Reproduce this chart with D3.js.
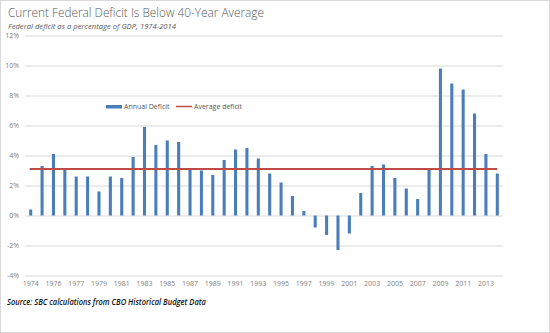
<!DOCTYPE html>
<html>
<head>
<meta charset="utf-8">
<script src="https://cdn.jsdelivr.net/npm/d3@7/dist/d3.min.js"></script>
<style>
  html, body { margin: 0; padding: 0; background: #fff; }
  svg { display: block; }
  text { font-family: "Open Sans", "Liberation Sans", sans-serif; }
</style>
</head>
<body>
<svg id="chart" width="550" height="333"></svg>
<script>
const categories = ["1974","1975","1976","1976 TQ","1977","1978","1979","1980","1981","1982","1983","1984","1985","1986","1987","1988","1989","1990","1991","1992","1993","1994","1995","1996","1997","1998","1999","2000","2001","2002","2003","2004","2005","2006","2007","2008","2009","2010","2011","2012","2013","2014"];
const annualDeficit = [0.4,3.3,4.1,3.1,2.6,2.6,1.6,2.6,2.5,3.9,5.9,4.7,5.0,4.9,3.1,3.0,2.7,3.7,4.4,4.5,3.8,2.8,2.2,1.3,0.3,-0.8,-1.3,-2.3,-1.2,1.5,3.3,3.4,2.5,1.8,1.1,3.1,9.8,8.8,8.4,6.8,4.1,2.8];
const averageDeficit = 3.1;
const xTickLabels = ["1974","1976","1977","1979","1981","1983","1985","1987","1989","1991","1993","1995","1997","1999","2001","2003","2005","2007","2009","2011","2013"];
const yTicks = [-4,-2,0,2,4,6,8,10,12];

const svg = d3.select("#chart");

// chart border
svg.append("rect").attr("x",0.5).attr("y",0.5).attr("width",549).attr("height",332)
  .attr("fill","#fff").attr("stroke","#d9d9d9");

const x = d3.scaleBand().domain(categories).range([25, 503]).paddingInner(0.73).paddingOuter(0.365);
const y = d3.scaleLinear().domain([-4, 12]).range([275.5, 35.5]);

// gridlines + y labels
const yAxis = d3.axisLeft(y).tickValues(yTicks).tickFormat(d => d + "%").tickSize(-(503-25)).tickPadding(5);
const gy = svg.append("g").attr("transform","translate(25,0)").call(yAxis);
gy.select(".domain").remove();
gy.selectAll(".tick line").attr("stroke","#d9d9d9").attr("stroke-width",1);
gy.selectAll(".tick text").attr("fill","#7f7f7f").attr("font-size","7px").attr("x",-6);

// bars
svg.append("g").selectAll("rect").data(annualDeficit).join("rect")
  .attr("x",(d,i)=>x(categories[i]))
  .attr("width",x.bandwidth())
  .attr("y",d=>y(Math.max(0,d)))
  .attr("height",d=>Math.abs(y(d)-y(0)))
  .attr("fill","#4a7ebb");

// average line
const c0 = x(categories[0]) + x.bandwidth()/2;
const c1 = x(categories[categories.length-1]) + x.bandwidth()/2;
svg.append("line").attr("x1",c0-1).attr("x2",c1).attr("y1",y(averageDeficit)).attr("y2",y(averageDeficit))
  .attr("stroke","#be4b48").attr("stroke-width",2);

// x labels (every other category)
const xAxis = d3.axisBottom(x)
  .tickValues(categories.filter((c,i)=>i%2===0))
  .tickFormat((c)=>xTickLabels[categories.indexOf(c)/2])
  .tickSize(0).tickPadding(0);
const gx = svg.append("g").attr("transform","translate(0,281)").call(xAxis);
gx.select(".domain").remove();
gx.selectAll(".tick text").attr("fill","#7f7f7f").attr("font-size","7px");

// legend
const lg = svg.append("g");
lg.append("rect").attr("x",106).attr("y",105).attr("width",16).attr("height",3.5).attr("fill","#4a7ebb");
lg.append("text").attr("x",124).attr("y",109).attr("font-size","7px").attr("fill","#595959").text("Annual Deficit");
lg.append("line").attr("x1",176).attr("x2",192).attr("y1",106.5).attr("y2",106.5).attr("stroke","#be4b48").attr("stroke-width",1.5);
lg.append("text").attr("x",194).attr("y",109).attr("font-size","7px").attr("fill","#595959").text("Average deficit");

// title, subtitle, source
svg.append("text").attr("x",8).attr("y",16.5).attr("font-size","12.5px").attr("fill","#595959")
  .attr("font-weight",300).attr("textLength",256).attr("lengthAdjust","spacingAndGlyphs")
  .text("Current Federal Deficit Is Below 40-Year Average");
svg.append("text").attr("x",8).attr("y",28.5).attr("font-size","7.5px").attr("fill","#595959")
  .attr("font-style","italic").attr("textLength",168).attr("lengthAdjust","spacingAndGlyphs")
  .text("Federal deficit as a percentage of GDP, 1974-2014");
svg.append("text").attr("x",7).attr("y",305).attr("font-size","9px").attr("fill","#111")
  .attr("font-style","italic").attr("font-weight",600).attr("textLength",199).attr("lengthAdjust","spacingAndGlyphs")
  .text("Source: SBC calculations from CBO Historical Budget Data");
</script>
</body>
</html>
